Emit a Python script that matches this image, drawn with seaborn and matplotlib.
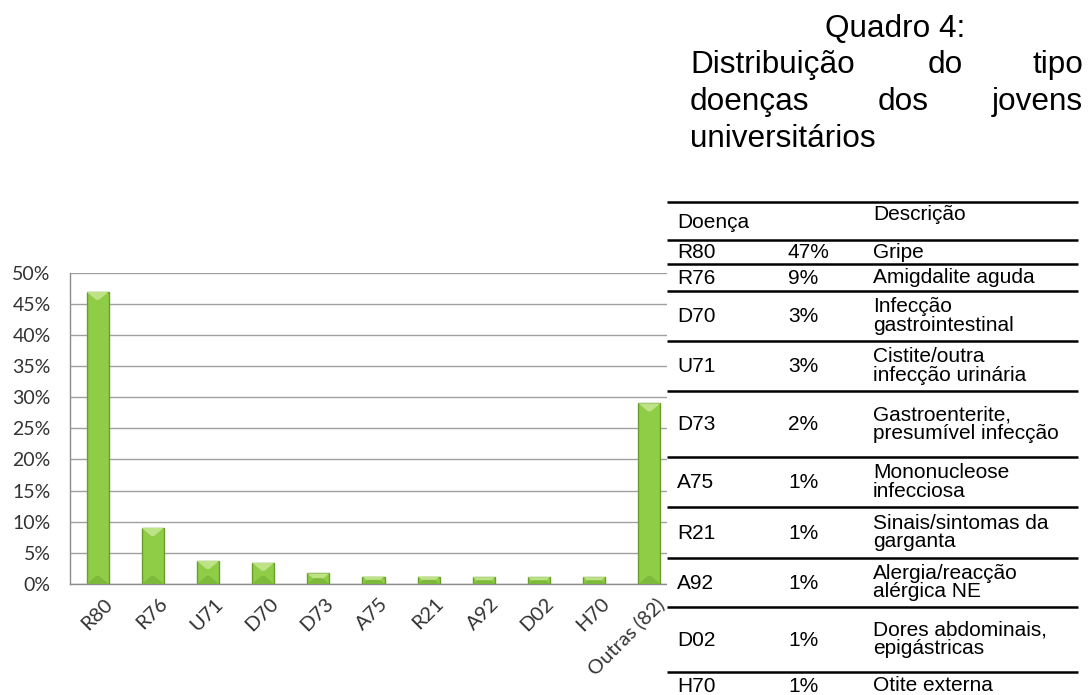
import numpy as np
import pandas as pd
import matplotlib
matplotlib.use("Agg")
import matplotlib.pyplot as plt
import matplotlib.transforms as mtransforms
from matplotlib.patches import Polygon, Rectangle
from matplotlib.ticker import PercentFormatter, FixedLocator
import seaborn as sns

# ---------------- data ----------------
categories = ["R80", "R76", "U71", "D70", "D73", "A75", "R21", "A92", "D02", "H70", "Outras (82)"]
values = [0.469, 0.090, 0.037, 0.034, 0.017, 0.012, 0.012, 0.011, 0.011, 0.011, 0.290]

table_codes = ["R80", "R76", "D70", "U71", "D73", "A75", "R21", "A92", "D02", "H70"]
table_pcts = ["47%", "9%", "3%", "3%", "2%", "1%", "1%", "1%", "1%", "1%"]
table_descs = ["Gripe", "Amigdalite aguda", "Infecção\ngastrointestinal",
               "Cistite/outra\ninfecção urinária", "Gastroenterite,\npresumível infecção",
               "Mononucleose\ninfecciosa", "Sinais/sintomas da\ngarganta",
               "Alergia/reacção\nalérgica NE", "Dores abdominais,\nepigástricas",
               "Otite externa"]
header_code = "Doença"
header_desc = "Descrição"
title_lines = [["Quadro 4:"], ["Distribuição", "do", "tipo"], ["doenças", "dos", "jovens"], ["universitários"]]

# ---------------- style ----------------
sns.set_style("white")
plt.rcParams["font.family"] = ["Lato", "DejaVu Sans"]

W, H = 1090, 695
fig = plt.figure(figsize=(W / 100, H / 100), dpi=100)
fig.patch.set_facecolor("white")

# chart axes (pixel layout)
ax_left, ax_right, ax_bottom, ax_top = 70, 677, 584, 272.5
ax = fig.add_axes([ax_left / W, (H - ax_bottom) / H, (ax_right - ax_left) / W, (ax_bottom - ax_top) / H])

df = pd.DataFrame({"code": categories, "value": values})
bar_face = "#8ECD45"
bar_edge = "#6A9E2C"
sns.barplot(data=df, x="code", y="value", ax=ax, color=bar_face, saturation=1,
            width=0.4, edgecolor=bar_edge, linewidth=1.0, zorder=3)

ax.set_xlim(-0.5, len(categories) - 0.5)
ax.set_ylim(0, 0.5)
ax.set_yticks(np.arange(0, 0.501, 0.05))
ax.yaxis.set_major_formatter(PercentFormatter(1.0, decimals=0))
ax.set_xlabel("")
ax.set_ylabel("")

# bevel effect on each bar
px_y = 0.5 / (ax_bottom - ax_top)               # data units per pixel (y)
px_x = len(categories) / (ax_right - ax_left)   # data units per pixel (x)
for p in ax.patches:
    x0, w, h = p.get_x(), p.get_width(), p.get_height()
    if h <= 0:
        continue
    dy = min(8 * px_y, h * 0.55)
    inset = min(w / 2, dy / px_y * px_x * 1.2)
    top = Polygon([(x0, h), (x0 + w, h), (x0 + w - inset, h - dy), (x0 + inset, h - dy)],
                  closed=True, facecolor="#BEE387", edgecolor="none", zorder=4)
    ax.add_patch(top)
    bot = Polygon([(x0, 0), (x0 + w, 0), (x0 + w - inset, dy), (x0 + inset, dy)],
                  closed=True, facecolor="#7DB93A", edgecolor="none", zorder=4)
    ax.add_patch(bot)

# grid & spines
ax.yaxis.grid(True, color="#A0A0A0", linewidth=1.0, zorder=0)
ax.xaxis.grid(False)
ax.set_axisbelow(True)
for s in ["top", "right"]:
    ax.spines[s].set_visible(False)
for s in ["left", "bottom"]:
    ax.spines[s].set_color("#8C8C8C")
    ax.spines[s].set_linewidth(1.0)

# ticks
ax.tick_params(axis="y", which="major", length=4, color="#8C8C8C", pad=10,
               labelsize=14, labelcolor="#333333")
ax.xaxis.set_minor_locator(FixedLocator(np.arange(-0.5, len(categories), 1.0)))
ax.tick_params(axis="x", which="minor", length=6, color="#8C8C8C", width=1.0, direction="out")
ax.tick_params(axis="x", which="major", length=0, pad=8, labelsize=14.5, labelcolor="#333333")
offset = mtransforms.ScaledTranslation(0.06, 0, fig.dpi_scale_trans)
for lbl in ax.get_xticklabels():
    lbl.set_rotation(45)
    lbl.set_ha("right")
    lbl.set_va("top")
    lbl.set_rotation_mode("anchor")
    lbl.set_transform(lbl.get_transform() + offset)

# ---------------- table & title overlay (pixel coordinates) ----------------
ov = fig.add_axes([0, 0, 1, 1])
ov.set_xlim(0, W)
ov.set_ylim(H, 0)
ov.axis("off")

tab_left, tab_right = 667, 1078
ov.add_patch(Rectangle((tab_left, 195), W - tab_left, H - 195, facecolor="white", edgecolor="none", zorder=1))

row_lines = [202, 240, 264, 291, 341, 391, 457, 507, 558, 607, 672]
row_bottom_last = 699
for yl in row_lines:
    ov.plot([tab_left, tab_right], [yl, yl], color="black", lw=1.8, solid_capstyle="butt", zorder=2)

tfont = ["Liberation Sans", "DejaVu Sans"]
tsize = 15
tcol = "black"
col_code, col_pct, col_desc = 677, 788, 873

ov.text(col_code, 222, header_code, fontsize=tsize, family=tfont, color=tcol, va="center", ha="left", zorder=3)
ov.text(col_desc, 215, header_desc, fontsize=tsize, family=tfont, color=tcol, va="center", ha="left", zorder=3)

bounds = row_lines[1:] + [row_bottom_last]
for i, (c, pc, d) in enumerate(zip(table_codes, table_pcts, table_descs)):
    top_y, bot_y = bounds[i], bounds[i + 1]
    yc = (top_y + bot_y) / 2
    ov.text(col_code, yc + 1, c, fontsize=tsize, family=tfont, color=tcol, va="center", ha="left", zorder=3)
    ov.text(col_pct, yc + 1, pc, fontsize=tsize, family=tfont, color=tcol, va="center", ha="left", zorder=3)
    ov.text(col_desc, yc, d, fontsize=tsize, family=tfont, color=tcol, va="center", ha="left",
            linespacing=0.98, zorder=3)

# title (justified block)
tsz = 22.7
blk_left, blk_right = 690, 1083
baselines = [37, 73, 110, 147]
ov.text(825, baselines[0], title_lines[0][0], fontsize=tsz, family=tfont, color=tcol, ha="left", va="baseline")
for li in (1, 2):
    words = title_lines[li]
    ov.text(blk_left, baselines[li], words[0], fontsize=tsz, family=tfont, color=tcol, ha="left", va="baseline")
    mid_x = 928 if li == 1 else 878
    ov.text(mid_x, baselines[li], words[1], fontsize=tsz, family=tfont, color=tcol, ha="left", va="baseline")
    ov.text(blk_right, baselines[li], words[2], fontsize=tsz, family=tfont, color=tcol, ha="right", va="baseline")
ov.text(blk_left, baselines[3], title_lines[3][0], fontsize=tsz, family=tfont, color=tcol, ha="left", va="baseline")

fig.savefig("out.png", dpi=100, facecolor="white")
